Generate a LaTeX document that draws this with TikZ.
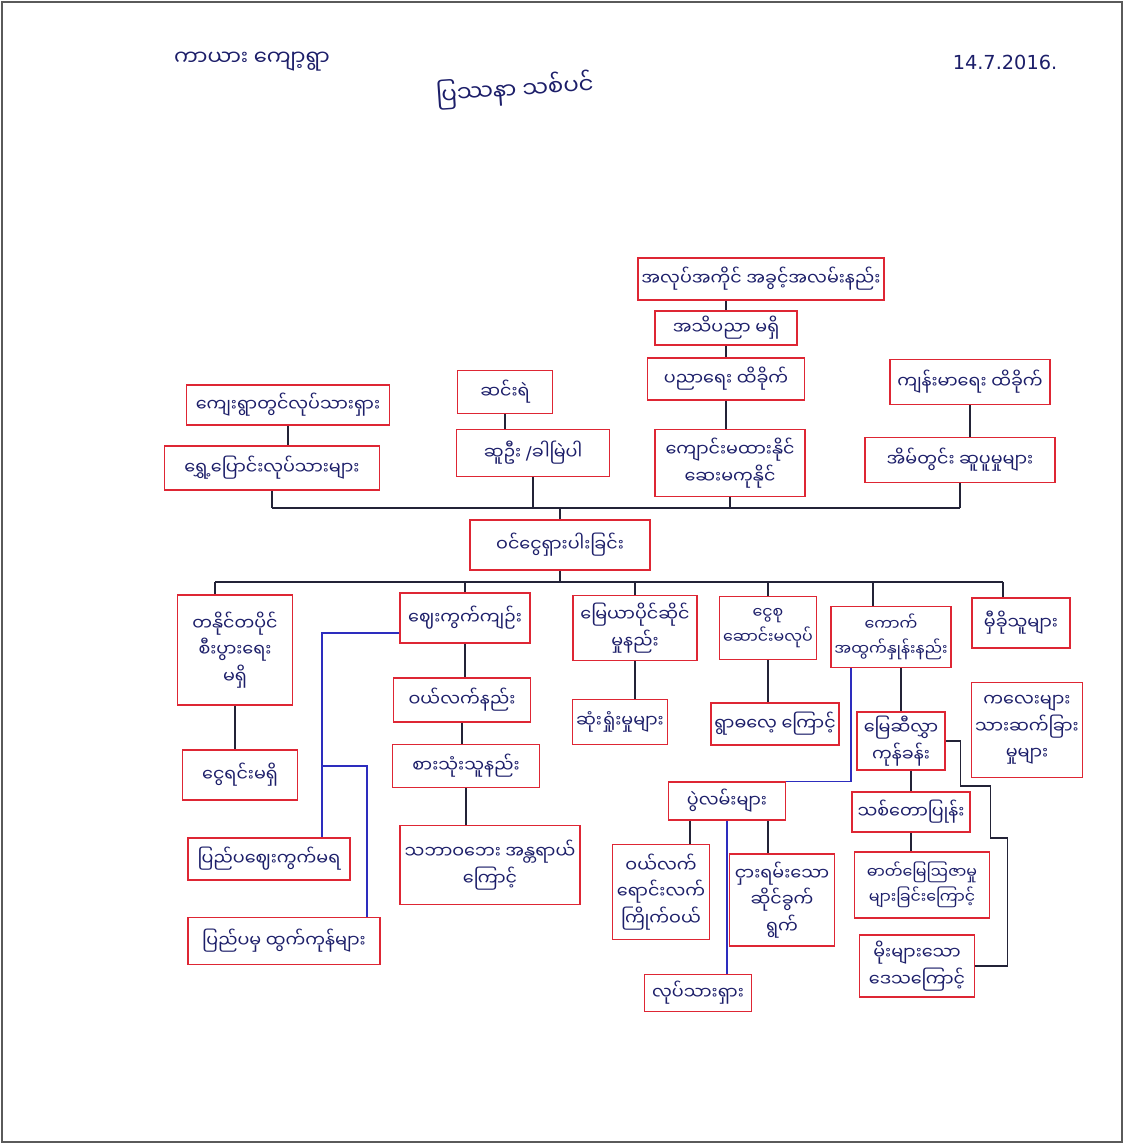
\documentclass[tikz,border=0pt]{standalone}
\usepackage{fontspec}
\newfontfamily\mmfont[Script=Myanmar]{Noto Sans Myanmar UI}
\newfontfamily\latinfont{DejaVu Sans}
\usetikzlibrary{calc}
\definecolor{boxred}{RGB}{222,38,52}
\definecolor{inkblue}{RGB}{28,30,105}
\definecolor{linkgray}{RGB}{35,35,55}
\definecolor{linkblue}{RGB}{45,45,190}
\definecolor{framegray}{RGB}{90,90,90}

\begin{document}
\begin{tikzpicture}[x=0.02cm, y=-0.02cm,
  font=\mmfont\fontsize{10}{15}\selectfont,
  prob/.style={rectangle, draw=boxred, line width=0.9pt, text=inkblue, align=center, inner sep=2pt},
  small/.style={font=\mmfont\fontsize{9}{14}\selectfont},
  link/.style={draw=linkgray, line width=0.7pt},
  bluelink/.style={draw=linkblue, line width=0.7pt},
  hand/.style={text=inkblue}
]
\useasboundingbox (0,0) rectangle (1126,1144);
\draw[framegray, line width=0.6pt] (2,2) rectangle (1122,1142);

% header
\node[hand, font=\mmfont\fontsize{12}{14}\selectfont] (place) at (252,62) {ကာယား ကျော့ရွာ};
\node[hand, font=\mmfont\fontsize{13}{15}\selectfont, rotate=4] (title) at (515,90) {ပြဿနာ သစ်ပင်};
\node[hand, font=\latinfont\fontsize{11}{14}\selectfont] (date) at (1005,62) {14.7.2016.};

% effects
\node[prob, minimum width=4.06cm, minimum height=0.80cm] (E1a) at (288,405) {ကျေးရွာတွင်လုပ်သားရှား};
\node[prob, minimum width=4.30cm, minimum height=0.88cm] (E1b) at (272,468) {ရွှေ့ပြောင်းလုပ်သားများ};
\node[prob, minimum width=1.90cm, minimum height=0.86cm] (E2a) at (505,392) {ဆင်းရဲ};
\node[prob, minimum width=3.06cm, minimum height=0.94cm] (E2b) at (533,453) {ဆူဦး {\latinfont/}ခါမြဲပါ};
\node[prob, minimum width=4.74cm, minimum height=0.84cm] (E3a) at (761,279) {အလုပ်အကိုင် အခွင့်အလမ်းနည်း};
\node[prob, minimum width=2.84cm, minimum height=0.68cm] (E3b) at (726,328) {အသိပညာ မရှိ};
\node[prob, minimum width=3.14cm, minimum height=0.84cm] (E3c) at (726,379) {ပညာရေး ထိခိုက်};
\node[prob, minimum width=3.00cm, minimum height=1.34cm] (E3d) at (730,463) {ကျောင်းမထားနိုင်\\ဆေးမကုနိုင်};
\node[prob, minimum width=3.20cm, minimum height=0.90cm] (E4a) at (970,382) {ကျန်းမာရေး ထိခိုက်};
\node[prob, minimum width=3.80cm, minimum height=0.90cm] (E4b) at (960,460) {အိမ်တွင်း ဆူပူမှုများ};

% core problem
\node[prob, minimum width=3.60cm, minimum height=1.00cm] (core) at (560,545) {ဝင်ငွေရှားပါးခြင်း};

% causes
\node[prob, minimum width=2.30cm, minimum height=2.20cm] (C1a) at (235,650) {တနိုင်တပိုင်\\စီးပွားရေး\\မရှိ};
\node[prob, minimum width=2.30cm, minimum height=1.00cm] (C1b) at (240,775) {ငွေရင်းမရှိ};
\node[prob, minimum width=2.60cm, minimum height=1.00cm] (C2a) at (465,618) {ဈေးကွက်ကျဉ်း};
\node[prob, minimum width=2.74cm, minimum height=0.88cm] (C2b) at (462,700) {ဝယ်လက်နည်း};
\node[prob, minimum width=2.94cm, minimum height=0.86cm] (C2c) at (466,766) {စားသုံးသူနည်း};
\node[prob, minimum width=3.60cm, minimum height=1.58cm] (C2d) at (490,865) {သဘာဝဘေး အန္တရာယ်\\ကြောင့်};
\node[prob, minimum width=3.24cm, minimum height=0.84cm] (C3x) at (269,859) {ပြည်ပဈေးကွက်မရ};
\node[prob, minimum width=3.84cm, minimum height=0.94cm] (C3y) at (284,941) {ပြည်ပမှ ထွက်ကုန်များ};
\node[prob, minimum width=2.48cm, minimum height=1.30cm] (C3a) at (635,628) {မြေယာပိုင်ဆိုင်\\မှုနည်း};
\node[prob, minimum width=1.90cm, minimum height=0.90cm] (C3b) at (620,722) {ဆုံးရှုံးမှုများ};
\node[prob, small, minimum width=1.76cm, minimum height=1.26cm] (C4a) at (768,628) {ငွေစု\\ဆောင်းမလုပ်};
\node[prob, minimum width=2.48cm, minimum height=0.84cm] (C4b) at (775,724) {ရွာဓလေ့ ကြောင့်};
\node[prob, small, minimum width=2.14cm, minimum height=1.22cm] (C5a) at (891,637) {ကောက်\\အထွက်နှုန်းနည်း};
\node[prob, minimum width=1.76cm, minimum height=1.16cm] (C5b) at (901,741) {မြေဆီလွှာ\\ကုန်ခန်း};
\node[prob, minimum width=2.36cm, minimum height=0.80cm] (C5c) at (911,812) {သစ်တောပြုန်း};
\node[prob, small, minimum width=2.70cm, minimum height=1.32cm] (C5d) at (922,885) {ဓာတ်မြေဩဇာမှု\\များခြင်းကြောင့်};
\node[prob, minimum width=2.30cm, minimum height=1.24cm] (C5e) at (917,966) {မိုးများသော\\ဒေသကြောင့်};
\node[prob, minimum width=1.96cm, minimum height=1.00cm] (C6a) at (1021,623) {မှီခိုသူများ};
\node[prob, minimum width=2.10cm, minimum height=1.90cm] (C6b) at (1027,730) {ကလေးများ\\သားဆက်ခြား\\မှုများ};
\node[prob, minimum width=2.34cm, minimum height=0.76cm] (C7) at (727,801) {ပွဲလမ်းများ};
\node[prob, minimum width=1.94cm, minimum height=1.90cm] (C7a) at (661,892) {ဝယ်လက်\\ရောင်းလက်\\ကြိုက်ဝယ်};
\node[prob, minimum width=2.10cm, minimum height=1.84cm] (C7b) at (782,900) {ငှားရမ်းသော\\ဆိုင်ခွက်\\ရွက်};
\node[prob, minimum width=2.14cm, minimum height=0.74cm] (C7c) at (698,993) {လုပ်သားရှား};

% helper points
\coordinate (topbus) at (0,508);
\coordinate (botbus) at (0,582);
\coordinate (c1drop) at ([xshift=-0.4cm]C1a.north);
\coordinate (c5drop) at ([xshift=-0.36cm]C5a.north);
\coordinate (c6drop) at ([xshift=-0.36cm]C6a.north);
\coordinate (mkt) at ([xshift=1.06cm]C3x.north);
\coordinate (imp) at ([xshift=1.66cm]C3y.north);
\coordinate (c7left) at ([xshift=-0.74cm]C7.south);
\coordinate (c7right) at ([xshift=-0.28cm]C7b.north);

% effect chains
\draw[link] (E1a.south) -- (E1a.south |- E1b.north);
\draw[link] (E2a.south) -- (E2a.south |- E2b.north);
\draw[link] (E3b.north |- E3a.south) -- (E3b.north);
\draw[link] (E3b.south) -- (E3c.north);
\draw[link] (E3c.south) -- (E3c.south |- E3d.north);
\draw[link] (E4a.south) -- (E4a.south |- E4b.north);
\draw[link] (E1b.south |- topbus) -- (E4b.south |- topbus);
\foreach \n in {E1b,E2b,E3d,E4b}
  \draw[link] (\n.south) -- (\n.south |- topbus);
\draw[link] (core.north) -- (core.north |- topbus);

% cause bus
\draw[link] (c1drop |- botbus) -- (c6drop |- botbus);
\draw[link] (core.south) -- (core.south |- botbus);
\foreach \p in {c1drop,C2a.north,C3a.north,C4a.north,c5drop,c6drop}
  \draw[link] (\p |- botbus) -- (\p);

% cause chains
\draw[link] (C1a.south) -- (C1a.south |- C1b.north);
\draw[link] (C2a.south) -- (C2a.south |- C2b.north);
\draw[link] (C2b.south) -- (C2b.south |- C2c.north);
\draw[link] (C2c.south) -- (C2c.south |- C2d.north);
\draw[bluelink] ([yshift=-0.3cm]C2a.west) -| (mkt);
\draw[bluelink] (mkt |- C2c) -| (imp);
\draw[link] (C3a.south |- C3b.north) -- (C3a.south);
\draw[link] (C4a.south) -- (C4a.south |- C4b.north);
\draw[link] (C5b.north |- C5a.south) -- (C5b.north);
\draw[link] (C5c.north |- C5b.south) -- (C5c.north);
\draw[link] (C5c.south) -- (C5c.south |- C5d.north);
\draw[link] (C5b.east) -- ++(15,0) -- ++(0,45) -- ++(30,0) -- ++(0,52) -- ++(17,0) |- (C5e.east);
\draw[bluelink] ([xshift=-0.8cm]C5a.south) |- (C7.north east);
\draw[link] (c7left) -- (c7left |- C7a.north);
\draw[link] (c7right |- C7.south) -- (c7right);
\draw[bluelink] (C7.south) -- (C7.south |- C7c.north);
\end{tikzpicture}
\end{document}
